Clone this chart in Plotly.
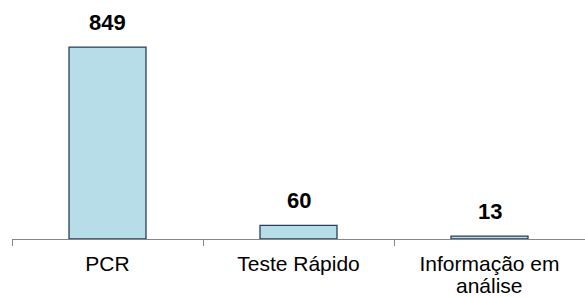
import plotly.graph_objects as go

categories = ["PCR", "Teste Rápido", "Informação em análise"]
values = [849, 60, 13]
value_labels = ["849", "60", "13"]
label_line1 = ["PCR", "Teste Rápido", "Informação em"]
label_line2 = ["", "", "análise"]

FONT = "Liberation Sans, Arial"

fig = go.Figure()
fig.add_trace(go.Bar(
    x=categories, y=values,
    marker=dict(color="#B7DDE8", line=dict(color="#243F60", width=1.3)),
    width=0.403,
))
for c, v, t in zip(categories, values, value_labels):
    fig.add_annotation(x=c, y=v, text="<b>%s</b>" % t, showarrow=False,
                       yanchor="bottom", yshift=10,
                       font=dict(family=FONT, size=22, color="black"))
for c, t in zip(categories, label_line2):
    if t:
        fig.add_annotation(x=c, y=0, yref="paper", text=t, showarrow=False,
                           yanchor="top", yshift=-34, borderpad=0,
                           font=dict(family=FONT, size=21, color="black"))

fig.update_layout(
    width=585, height=297,
    margin=dict(l=12, r=0, t=0, b=58),
    plot_bgcolor="white", paper_bgcolor="white",
    showlegend=False,
    font=dict(family=FONT, size=21, color="black"),
)
fig.update_xaxes(range=[-0.5, 2.5], showline=True, linecolor="#868686", linewidth=1,
                 ticks="outside", tickson="boundaries", ticklen=6, tickcolor="#868686",
                 tickmode="array", tickvals=categories, ticktext=label_line1,
                 ticklabelstandoff=6,
                 showgrid=False, zeroline=False, automargin=False)
fig.update_yaxes(range=[0, 1057], visible=False, showgrid=False, zeroline=False,
                 automargin=False)
fig.write_html("out.html", config={"displayModeBar": False},
               post_script="document.body.style.margin='0';document.body.style.overflow='hidden';")
